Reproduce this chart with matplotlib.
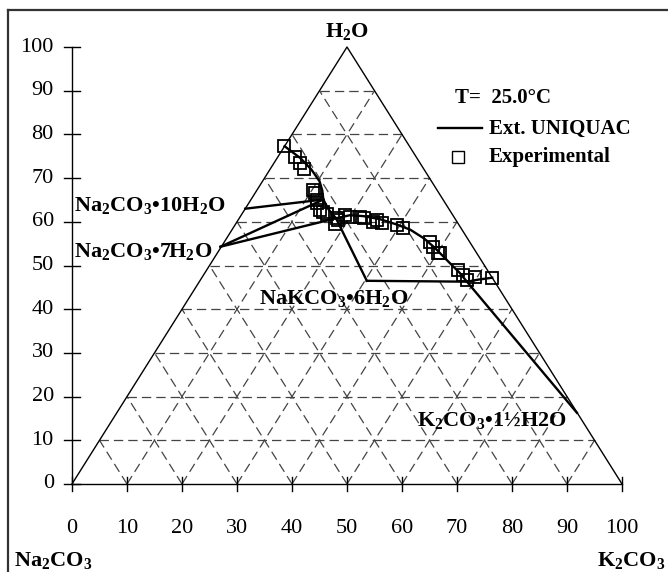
import matplotlib
matplotlib.use("Agg")
import matplotlib.pyplot as plt
from matplotlib.lines import Line2D

# ternary diagram drawn in plain x/y (x = K2CO3 + H2O/2, y = H2O), wt%
ticks = [0, 10, 20, 30, 40, 50, 60, 70, 80, 90, 100]

# Ext. UNIQUAC solubility curve
sol_x = [38.65, 41.5, 43.5, 45.0, 45.5, 45.7, 46.6, 48.0, 50.5, 53.0, 56.0, 59.0,
         61.5, 64.0, 66.0, 68.5, 70.5, 71.8, 74.0, 76.4]
sol_y = [77.3, 74.6, 72.0, 69.3, 67.2, 65.1, 62.9, 60.8, 61.5, 61.3, 60.6, 59.4,
         58.2, 56.2, 54.0, 50.8, 48.3, 46.3, 46.8, 47.2]

# solid phases and invariant points
hyd10 = (31.5, 63.0)
hyd7 = (27.0, 54.3)
nak6 = (53.6, 46.5)
k15 = (91.8, 16.3)
inv_a = (45.7, 65.1)
inv_b = (48.0, 60.8)
inv_c = (71.8, 46.3)
tie_lines = [(hyd10, inv_a), (hyd7, inv_a), (hyd7, inv_b),
             (inv_b, nak6), (nak6, inv_c), (inv_c, k15)]

# experimental points
exp_x = [38.6, 40.6, 41.5, 42.1, 43.9, 44.2, 44.5, 44.5, 45.1, 45.7, 46.3,
         48.1, 48.4, 47.8, 49.6, 50.5, 52.4, 53.0, 54.8, 55.4, 56.3, 59.0, 60.2,
         65.1, 65.7, 66.6, 66.9, 70.2, 71.1, 71.8, 73.3, 76.3]
exp_y = [77.3, 74.8, 73.5, 72.0, 67.3, 66.5, 65.0, 64.2, 62.7, 62.3, 61.9,
         60.8, 60.4, 59.6, 61.6, 61.2, 61.2, 60.8, 60.0, 60.4, 59.7, 59.3, 58.5,
         55.4, 54.3, 52.8, 52.8, 49.0, 47.8, 46.7, 47.4, 47.1]

plt.rcParams["font.family"] = ["Liberation Serif", "DejaVu Serif"]
plt.rcParams["mathtext.fontset"] = "custom"
plt.rcParams["mathtext.rm"] = "Liberation Serif:bold"
plt.rcParams["mathtext.default"] = "rm"

fig = plt.figure(figsize=(6.68, 5.72), dpi=100)
ax = fig.add_axes([0, 0, 1, 1])
ax.set_xlim(-13.09, 108.36)
ax.set_ylim(-20.14, 110.76)
ax.axis("off")

# chart area border (left and top only visible)
fig.add_artist(Line2D([8/668, 8/668], [0, 1 - 10/572], color="#333333", lw=1.6))
fig.add_artist(Line2D([8/668, 1], [1 - 10/572, 1 - 10/572], color="#333333", lw=1.6))

# dashed grid
dash = dict(color="#444444", lw=0.9, dashes=(7.5, 4))
for c in ticks[1:-1]:
    ax.plot([c / 2, 100 - c / 2], [c, c], **dash)
    ax.plot([c, c + (100 - c) / 2], [0, 100 - c], **dash)
    ax.plot([c, c / 2], [0, c], **dash)

# triangle and axes
ax.plot([0, 50, 100], [0, 100, 0], color="black", lw=1.0)
ax.plot([0, 100], [0, 0], color="black", lw=1.0)
ax.plot([0, 0], [0, 100], color="black", lw=1.0)
for t in ticks:
    ax.plot([-1.4, 1.4], [t, t], color="black", lw=1.0)
    ax.plot([t, t], [-1.7, 1.7], color="black", lw=1.0)
    ax.text(-3.3, t, str(t), ha="right", va="center", fontsize=16)
    ax.text(t, -10.1, str(t), ha="center", va="center", fontsize=16)

# model lines
ax.plot(sol_x, sol_y, color="black", lw=1.7)
for p, q in tie_lines:
    ax.plot([p[0], q[0]], [p[1], q[1]], color="black", lw=1.7)

ax.plot(exp_x, exp_y, "s", ms=8.4, mfc="none", mec="black", mew=1.3)

# labels
bold = dict(fontsize=16, fontweight="bold")
ax.text(50, 103.6, "H$_2$O", ha="center", va="center", **bold)
ax.text(-10.5, -17.4, "Na$_2$CO$_3$", ha="left", va="center", **bold)
ax.text(107.9, -17.4, "K$_2$CO$_3$", ha="right", va="center", **bold)
ax.text(0.3, 63.7, "Na$_2$CO$_3$•10H$_2$O", ha="left", va="center", **bold)
ax.text(0.3, 53.3, "Na$_2$CO$_3$•7H$_2$O", ha="left", va="center", **bold)
ax.text(47.6, 42.5, "NaKCO$_3$•6H$_2$O", ha="center", va="center", **bold)
ax.text(90.0, 14.6, "K$_2$CO$_3$•1½H2O", ha="right", va="center", **bold)

# legend
ax.text(69.6, 88.3, "T=  25.0°C", ha="left", va="center", fontsize=15, fontweight="bold")
ax.plot([66.5, 74.5], [81.4, 81.4], color="black", lw=1.7)
ax.text(75.8, 81.2, "Ext. UNIQUAC", ha="left", va="center", fontsize=15, fontweight="bold")
ax.plot([70.2], [74.8], "s", ms=8.4, mfc="none", mec="black", mew=1.0)
ax.text(75.8, 74.8, "Experimental", ha="left", va="center", fontsize=15, fontweight="bold")

fig.savefig("out.png", dpi=100)
